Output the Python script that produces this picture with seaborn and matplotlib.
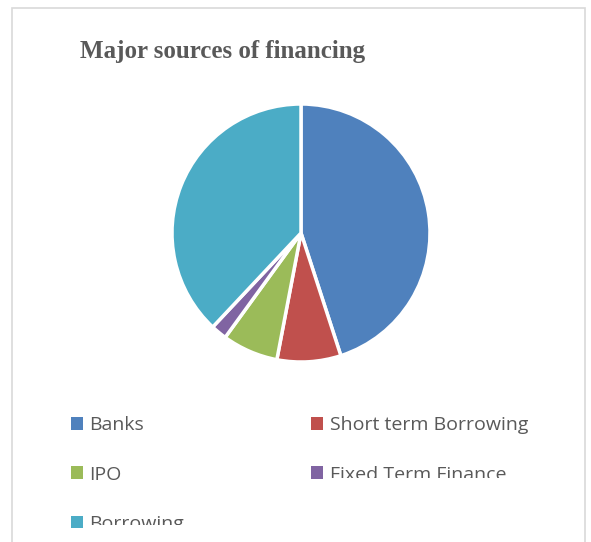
import matplotlib
matplotlib.use("Agg")
import matplotlib.pyplot as plt
from matplotlib.patches import Rectangle
from matplotlib.transforms import Bbox, TransformedBbox
import seaborn as sns

sources = ["Banks", "Short term Borrowing", "IPO", "Fixed Term Finance", "Borrowing"]
shares = [45, 8, 7, 2, 38]
colors = ["#4F81BD", "#C0504D", "#9BBB59", "#8064A2", "#4BACC6"]

sns.set_theme(style="white")
plt.rcParams["font.family"] = ["Open Sans", "DejaVu Sans"]

W, H = 591, 542
fig = plt.figure(figsize=(W / 100, H / 100), dpi=100)

# outer chart frame (bottom edge falls outside the picture)
fig.patches.append(Rectangle((12 / W, -0.05), 573 / W, (H - 8) / H + 0.05,
                             transform=fig.transFigure, fill=False,
                             edgecolor="#D9D9D9", linewidth=1.2))

# pie, centred at (301, 233) px with radius 129 px
cx, cy, r = 301, 233, 129
ax = fig.add_axes([(cx - r) / W, (H - cy - r) / H, 2 * r / W, 2 * r / H])
wedges, _ = ax.pie(shares, colors=colors, startangle=90, counterclock=False,
                   wedgeprops=dict(edgecolor="white", linewidth=2.5))
ax.set_aspect("equal")
ax.set_xlim(-1.0, 1.0)
ax.set_ylim(-1.0, 1.0)

fig.text(80 / W, (H - 58) / H, "Major sources of financing",
         family="Liberation Serif", fontweight="bold", fontsize=18,
         color="#595959", ha="left", va="baseline")

# legend: column-major order so Banks / IPO / Borrowing sit on the left
order = [0, 2, 4, 1, 3]
leg = fig.legend([wedges[i] for i in order], [sources[i] for i in order],
                 ncol=2, loc="upper left",
                 bbox_to_anchor=(53 / W, (H - 399) / H),
                 frameon=False, fontsize=14, handlelength=0.62,
                 handleheight=0.62, handletextpad=0.36, columnspacing=6.5,
                 labelspacing=1.6, labelcolor="#595959")
for h in leg.legend_handles:
    h.set_edgecolor("none")

# the lower entries are cut off in the original
for txt in leg.get_texts():
    if txt.get_text() == "Borrowing":
        txt.set_clip_box(TransformedBbox(Bbox([[0, 17 / H], [1, 1]]), fig.transFigure))
        txt.set_clip_on(True)
    if txt.get_text() == "Fixed Term Finance":
        txt.set_clip_box(TransformedBbox(Bbox([[0, (H - 478) / H], [1, 1]]), fig.transFigure))
        txt.set_clip_on(True)

fig.savefig("out.png", dpi=100)
